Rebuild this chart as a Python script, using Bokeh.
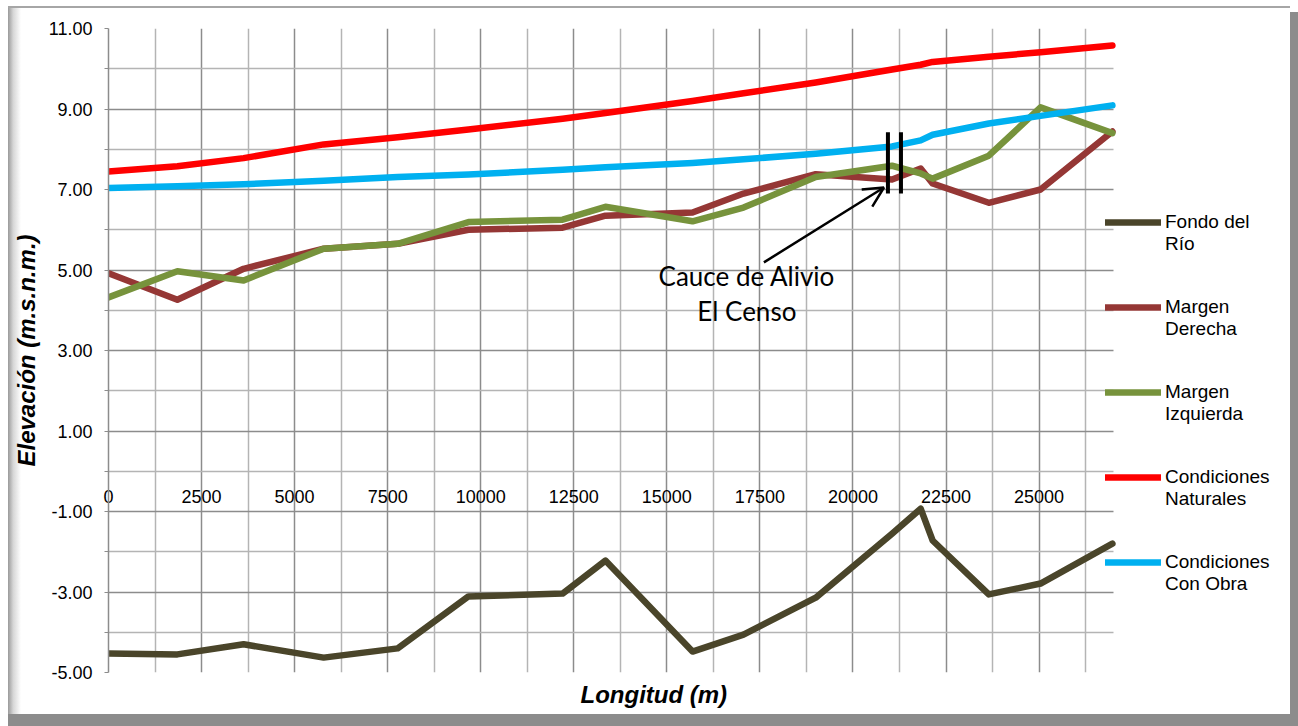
from bokeh.plotting import figure
from bokeh.models import (Range1d, FixedTicker, NumeralTickFormatter,
                          Legend, LegendItem, Arrow, OpenHead, Title)
from bokeh.core.properties import value
from bokeh.embed import file_html
from bokeh.resources import INLINE

# ---------------- data ----------------
station = [0, 1850, 3630, 5780, 7770, 9670, 12200, 13350, 15690, 17060, 19000,
           21050, 21820, 22140, 23650, 25040, 26970]
fondo_rio = [-4.53, -4.55, -4.30, -4.63, -4.40, -3.11, -3.04, -2.22, -4.48, -4.06, -3.14,
             -1.55, -0.93, -1.72, -3.06, -2.79, -1.80]
margen_derecha = [4.92, 4.26, 5.03, 5.53, 5.65, 6.00, 6.05, 6.35, 6.43, 6.90, 7.38,
                  7.25, 7.52, 7.15, 6.67, 7.00, 8.44]
margen_izquierda = [4.32, 4.97, 4.74, 5.53, 5.65, 6.19, 6.25, 6.57, 6.21, 6.55, 7.31,
                    7.59, 7.40, 7.27, 7.84, 9.04, 8.40]
cond_naturales = [7.45, 7.58, 7.78, 8.12, 8.30, 8.49, 8.76, 8.90, 9.20, 9.39, 9.66,
                  9.98, 10.10, 10.17, 10.30, 10.41, 10.58]
cond_con_obra = [7.04, 7.08, 7.13, 7.22, 7.31, 7.37, 7.49, 7.55, 7.66, 7.75, 7.89,
                 8.07, 8.22, 8.36, 8.64, 8.83, 9.09]

series_names = ["Fondo del\nRío", "Margen\nDerecha", "Margen\nIzquierda",
                "Condiciones\nNaturales", "Condiciones\nCon Obra"]
series_colors = ["#4A452A", "#953735", "#77933C", "#FF0000", "#00B0F0"]

x_ticks = [0, 2500, 5000, 7500, 10000, 12500, 15000, 17500, 20000, 22500, 25000]
x_minor = [1250, 3750, 6250, 8750, 11250, 13750, 16250, 18750, 21250, 23750, 26250]
y_ticks = [-5, -3, -1, 1, 3, 5, 7, 9, 11]
y_minor = [-4, -2, 0, 2, 4, 6, 8, 10]
X_END = 27000  # end of the plotted longitudinal axis

# annotation: "Cauce de Alivio El Censo"
bar_x = [20940, 21290]
bar_y0 = [6.90, 6.90]
bar_y1 = [8.42, 8.42]
arrow_start = (17608, 5.19)
arrow_end = (20833, 7.05)
anno_x = [17150, 17150]
anno_y = [4.86, 3.97]
anno_text = ["Cauce de Alivio", "El Censo"]

FONT = "Liberation Sans"
W, H = 1290, 714
LEFT, TOP, BOTTOM = 108, 28, 42
PLOT_RIGHT_PX = 1113                     # where X_END sits on screen
FRAME_W = W - LEFT
FRAME_H = H - TOP - BOTTOM
x_view_end = X_END * FRAME_W / (PLOT_RIGHT_PX - LEFT)

chart_frame_css = {
    "background": ("linear-gradient(#a6a6a6, #a6a6a6) 8px 6px / calc(100% - 8px) 2px no-repeat, "
                   "linear-gradient(to right, #9a9a9a, #d6d6d6 40%, #ffffff) 8px 6px / 13px calc(100% - 6px) no-repeat, "
                   "#ffffff"),
    "box-shadow": "8px 12px 0 0 #8c8c8c",
}

p = figure(width=W, height=H, output_backend="svg", toolbar_location=None,
           x_range=Range1d(0, x_view_end), y_range=Range1d(-5, 11),
           min_border_left=LEFT, min_border_right=0, min_border_top=TOP,
           min_border_bottom=BOTTOM, styles=chart_frame_css)
p.outline_line_color = None
p.background_fill_color = "white"
p.border_fill_color = None

# x axis: labels drawn along y = 0 (axis line itself hidden)
p.xaxis.ticker = FixedTicker(ticks=x_ticks, minor_ticks=x_minor)
p.xaxis.axis_line_color = None
p.xaxis.major_tick_line_color = None
p.xaxis.minor_tick_line_color = None
p.xaxis.major_tick_out = 0
p.xaxis.major_label_standoff = -int(round(FRAME_H * 5 / 16)) + 14
p.xaxis.major_label_text_font = FONT
p.xaxis.major_label_text_font_size = "18px"
p.xaxis.major_label_text_color = "black"

p.add_layout(Title(text="Longitud (m)", align="left", offset=472, text_font=FONT,
                   text_font_size="24px", text_font_style="bold italic",
                   text_color="black", standoff=13), "below")

# y axis
p.yaxis.ticker = FixedTicker(ticks=y_ticks, minor_ticks=y_minor)
p.yaxis.formatter = NumeralTickFormatter(format="0.00")
p.yaxis.axis_label = "Elevación (m.s.n.m.)"
p.yaxis.axis_label_text_font = FONT
p.yaxis.axis_label_text_font_size = "24px"
p.yaxis.axis_label_text_font_style = "bold italic"
p.yaxis.axis_label_text_color = "black"
p.yaxis.axis_label_standoff = 6
p.yaxis.major_label_text_font = FONT
p.yaxis.major_label_text_font_size = "18px"
p.yaxis.major_label_text_color = "black"
p.yaxis.major_label_standoff = 12
p.yaxis.axis_line_color = "#8c8c8c"
p.yaxis.axis_line_width = 1.5
p.yaxis.major_tick_line_color = "#8c8c8c"
p.yaxis.minor_tick_line_color = "#8c8c8c"
p.yaxis.major_tick_out = 4
p.yaxis.major_tick_in = 0
p.yaxis.minor_tick_out = 4
p.yaxis.minor_tick_in = 0

# grids
p.xgrid.grid_line_color = "#8c8c8c"
p.xgrid.grid_line_width = 1.5
p.xgrid.minor_grid_line_color = "#b4b4b4"
p.xgrid.minor_grid_line_width = 1.5
p.ygrid.grid_line_color = "#8c8c8c"
p.ygrid.grid_line_width = 1.5
p.ygrid.minor_grid_line_color = "#b4b4b4"
p.ygrid.minor_grid_line_width = 1.5

# white area right of the plotted range (legend zone): hides the grid there
p.quad(left=[X_END], right=[x_view_end * 1.1], bottom=[-10], top=[20],
       fill_color="white", line_color=None)

# series
series_values = [fondo_rio, margen_derecha, margen_izquierda, cond_naturales, cond_con_obra]
items = []
for name, col, vals in zip(series_names, series_colors, series_values):
    r = p.line(station, vals, line_color=col, line_width=6.5,
               line_join="round", line_cap="round")
    items.append(LegendItem(label="\n" + name, renderers=[r]))

legend = Legend(items=items, location=(PLOT_RIGHT_PX - 8 - LEFT, 77), padding=0, margin=0,
                glyph_width=56, glyph_height=20, label_standoff=4, spacing=19,
                label_text_font=FONT, label_text_font_size="19px",
                label_text_line_height=1.2,
                label_text_color="black", border_line_color=None,
                background_fill_alpha=0)
p.add_layout(legend)

# annotation
p.segment(x0=bar_x, y0=bar_y0, x1=bar_x, y1=bar_y1, line_color="black", line_width=4)
p.add_layout(Arrow(end=OpenHead(size=20, line_width=2.5, line_color="black"),
                   x_start=arrow_start[0], y_start=arrow_start[1],
                   x_end=arrow_end[0], y_end=arrow_end[1],
                   line_width=2.5, line_color="black"))
p.text(x=anno_x, y=anno_y, text=anno_text, text_font=value("Lato"),
       text_font_size="26px", text_align="center", text_baseline="middle",
       text_color="black")

open("out.html", "w").write(file_html(p, INLINE))
